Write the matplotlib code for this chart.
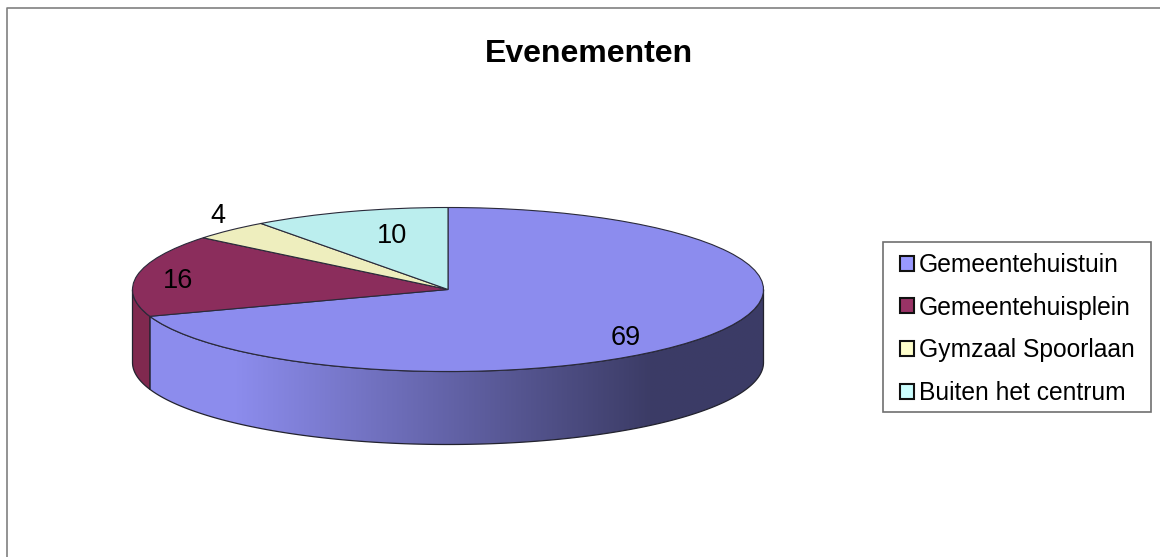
import numpy as np
import matplotlib
matplotlib.use('Agg')
import matplotlib.pyplot as plt
from matplotlib.patches import Patch, Polygon, Rectangle

plt.rcParams['font.family'] = ['Liberation Sans', 'DejaVu Sans']

categories = ['Gemeentehuistuin', 'Gemeentehuisplein', 'Gymzaal Spoorlaan', 'Buiten het centrum']
values = [69, 16, 4, 10]
top_colors = ['#8c8cee', '#8b2d5c', '#eeeebe', '#bbeeee']
legend_colors = ['#9999ff', '#993366', '#ffffcc', '#ccffff']
side_color = '#80294f'
title = 'Evenementen'

W, H = 1160, 557
CX, CY, RX, RY = 448, 289.5, 315.5, 82
DEPTH = 73 / RY

fig = plt.figure(figsize=(W / 100, H / 100), dpi=100, facecolor='white')

# pie axes: one data unit is the pie radius, so the ellipse comes from the axes scale
ax = fig.add_axes([0, 0, 1, 1])
wedges, _ = ax.pie(values, colors=top_colors, startangle=90, counterclock=False, radius=1,
                   wedgeprops=dict(edgecolor='#2a2a3a', linewidth=0.8, zorder=5))
ax.set_aspect('auto')
ax.axis('off')

# side wall, angles follow the values
cum = np.cumsum([0] + values) / sum(values) * 2 * np.pi


def wall(t0, t1):
    t = np.linspace(t0, t1, 200)
    x, y = np.sin(t), np.cos(t)
    return np.column_stack([np.r_[x, x[::-1]], np.r_[y, y[::-1] - DEPTH]])


main = Polygon(wall(np.pi / 2, cum[1]), closed=True, facecolor='none', edgecolor='#22222e',
               linewidth=0.9, zorder=3)
ax.add_patch(main)
xs = np.linspace(-1, 1, 600)
px = CX + xs * RX
shade = np.column_stack([np.interp(px, [235, 650], [c0, c1])
                         for c0, c1 in zip((0.55, 0.55, 0.93), (0.235, 0.235, 0.40))])
img = ax.imshow(shade[np.newaxis, :, :], extent=(-1, 1, -1 - DEPTH, 1), aspect='auto',
                zorder=2, interpolation='bilinear')
img.set_clip_path(main)
ax.add_patch(Polygon(wall(cum[1], np.pi * 1.5), closed=True, facecolor=side_color,
                     edgecolor='#22222e', linewidth=0.9, zorder=3))
ax.set_xlim((0 - CX) / RX, (W - CX) / RX)
ax.set_ylim((CY - H) / RY, CY / RY)

# overlay in pixel coordinates for frame, texts and legend
ov = fig.add_axes([0, 0, 1, 1], facecolor='none')
ov.set_xlim(0, W)
ov.set_ylim(H, 0)
ov.axis('off')
ov.plot([6.5, 6.5, W], [H, 8, 8], color='#808080', linewidth=1.2, clip_on=False)

ov.text(589, 54.5, title, fontsize=23, fontweight='bold', ha='center', va='center')
for val, xp, yp in zip(values, [626, 178, 218, 392], [338, 281, 216, 236]):
    ov.text(xp, yp, str(val), fontsize=19.5, ha='center', va='center', color='black')

ov.add_patch(Rectangle((883, 242), 268, 170, facecolor='white', edgecolor='#707070', linewidth=1.2))
handles = [Patch(facecolor=c, edgecolor='#111111', linewidth=1.5) for c in legend_colors]
leg = ov.legend(handles, categories, loc='upper left', bbox_to_anchor=(890.5 / W, 1 - 243 / H),
                fontsize=17.7, frameon=False, borderaxespad=0, borderpad=0.4, labelspacing=0.76,
                handlelength=0.55, handleheight=0.55, handletextpad=0.2)

fig.savefig('out.png', dpi=100, facecolor='white')
